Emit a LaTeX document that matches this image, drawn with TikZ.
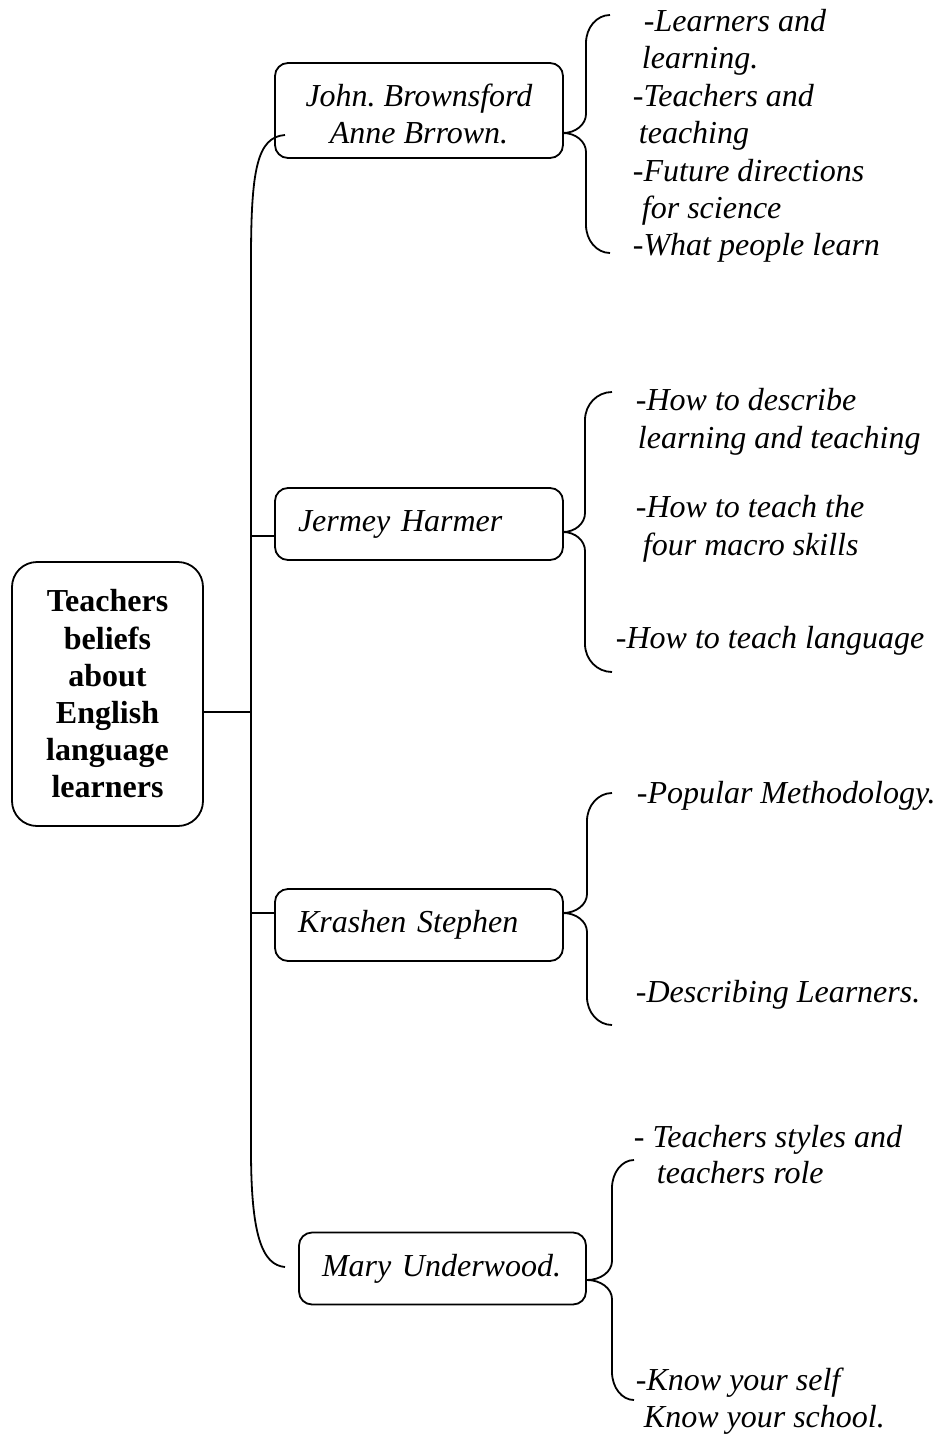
\documentclass[tikz,border=0pt]{standalone}
\usepackage{fontspec}
\setmainfont{Liberation Serif}
\frenchspacing
\newcommand{\mybrace}[6]{% #1 tip x, #2 tip y, #3 spine x, #4 end x, #5 top y, #6 bottom y
  \draw (#4,#5) .. controls ({#4-0.552*(#4-#3)},#5) and (#3,{#5+28-0.552*28}) .. (#3,{#5+28})
     -- (#3,{#2-19}) .. controls (#3,{#2-19+0.552*19}) and ({#1+0.552*(#3-#1)},#2) .. (#1,#2)
     .. controls ({#1+0.552*(#3-#1)},#2) and (#3,{#2+19-0.552*19}) .. (#3,{#2+19})
     -- (#3,{#6-28}) .. controls (#3,{#6-28+0.552*28}) and ({#4-0.552*(#4-#3)},#6) .. (#4,#6);}
\begin{document}
\begin{tikzpicture}[x=1pt,y=-1pt,line width=1.8pt,
  namebox/.style={draw, rounded corners=13pt, minimum height=72pt, inner xsep=23pt, inner ysep=0pt,
     font=\fontsize{32}{36.5}\selectfont\itshape},
  rootbox/.style={draw, rounded corners=25pt, minimum width=191pt, minimum height=264pt,
     align=center, inner sep=0pt, font=\fontsize{32}{37.2}\selectfont\bfseries},
  item/.style={anchor=base west, inner sep=0pt, font=\fontsize{32}{36.8}\selectfont\itshape}]
\useasboundingbox (0,0) rectangle (937,1437);

% root
\node[rootbox] (root) at (107.5,694) {Teachers\\beliefs\\about\\English\\language\\learners};

% name boxes
\node[namebox, minimum width=288pt, minimum height=95pt, align=center] (jb) at (419,110.5)
  {\rule{0pt}{29.5pt}John. Brownsford\\Anne Brrown.};
\node[namebox, text width=242pt, align=left] (jh) at (419,524) {Jermey Harmer};
\node[namebox, text width=242pt, align=left] (ks) at (419,925) {Krashen Stephen};
\node[namebox, text width=241pt, align=left] (mu) at (442.5,1268.5) {Mary Underwood.};

% trunk
\coordinate (tA) at (285,135);
\coordinate (tB) at (285,1267);
\coordinate (tr) at (251,712);
\coordinate (tj) at (251,536);
\coordinate (tk) at (251,913);
\draw (tA) .. controls (257,137) and (251,170) .. (251,260) -- (251,1150)
      .. controls (251,1235) and (262,1265) .. (tB);
\draw (tr -| root.east) -- (tr);
\draw (tj) -- (tj -| jh.west);
\draw (tk) -- (tk -| ks.west);

% braces
\mybrace{563}{133}{586}{610}{15}{253}
\mybrace{563}{532}{585}{612}{392}{672}
\mybrace{563}{913}{587}{612}{793}{1025}
\mybrace{587}{1280}{612}{634}{1160}{1400}

% items
\node[item] (a1) at (643,32) {-Learners and};
\node[item] (a2) at (641,69) {learning.};
\node[item] (a3) at (632,106) {-Teachers and};
\node[item] (a4) at (638,143) {teaching};
\node[item] (a5) at (632,181) {-Future directions};
\node[item] (a6) at (641,218) {for science};
\node[item] (a7) at (632,255) {-What people learn};

\node[item] (b1) at (635,410) {-How to describe};
\node[item] (b2) at (637,448) {learning and teaching};
\node[item] (b3) at (635,517) {-How to teach the};
\node[item] (b4) at (642,555) {four macro skills};
\node[item] (b5) at (615,648) {-How to teach language};

\node[item] (c1) at (636,803) {-Popular Methodology.};
\node[item] (c2) at (635,1002) {-Describing Learners.};

\node[item] (d1) at (633,1147) {- Teachers styles and};
\node[item] (d2) at (656,1183) {teachers role};
\node[item] (d3) at (635,1390) {-Know your self};
\node[item] (d4) at (643,1427) {Know your school.};
\end{tikzpicture}
\end{document}
